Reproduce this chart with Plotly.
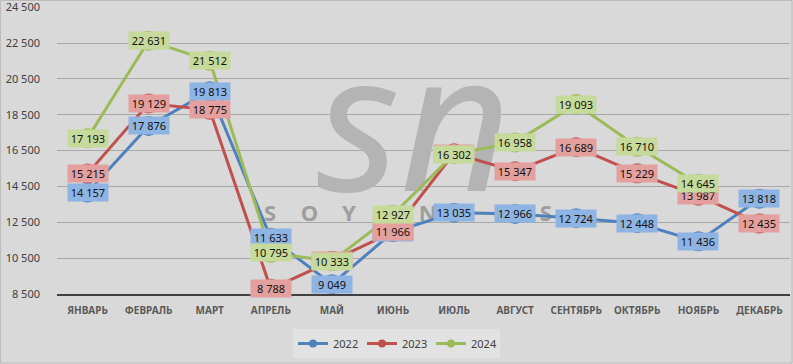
import plotly.graph_objects as go

months = ["ЯНВАРЬ", "ФЕВРАЛЬ", "МАРТ", "АПРЕЛЬ", "МАЙ", "ИЮНЬ", "ИЮЛЬ",
          "АВГУСТ", "СЕНТЯБРЬ", "ОКТЯБРЬ", "НОЯБРЬ", "ДЕКАБРЬ"]
series_names = ["2022", "2023", "2024"]
v2022 = [14157, 17876, 19813, 11633, 9049, 11950, 13035, 12966, 12724, 12448, 11436, 13818]
v2023 = [15215, 19129, 18775, 8788, 10350, 11966, 16350, 15347, 16689, 15229, 13987, 12435]
v2024 = [17193, 22631, 21512, 10795, 10333, 12927, 16302, 16958, 19093, 16710, 14645, None]
y_ticks = [8500, 10500, 12500, 14500, 16500, 18500, 20500, 22500, 24500]
watermark_big = "sn"
watermark_letters = ["S", "O", "Y", "A", "N", "E", "W", "S"]

W, H = 793, 364
L, R, T, B = 57, 3, 7, 70
PW, PH = W - L - R, H - T - B
YMIN, YMAX = 8500, 24510
XMIN, XMAX = -0.5, 11.5

def x_of(px):
    return XMIN + (px - L) / PW * (XMAX - XMIN)

def y_of(py):
    return YMIN + (T + PH - py) / PH * (YMAX - YMIN)

line_colors = ["#4f81bd", "#c0504d", "#9bbb59"]
box_colors = ["#8db4e2", "#e3a09e", "#c6da9c"]
all_vals = [v2022, v2023, v2024]
xs = list(range(len(months)))

fig = go.Figure()

# watermark (drawn first so lines are above it)
fig.add_trace(go.Scatter(
    x=[x_of(414)], y=[y_of(143)], mode="text", text=[watermark_big],
    textfont=dict(family="Noto Sans", size=192, color="#b4b4b4", style="italic"),
    showlegend=False, hoverinfo="skip", cliponaxis=False))
fig.add_trace(go.Scatter(
    x=[x_of(270 + i * 39.4) for i in range(len(watermark_letters))],
    y=[y_of(215)] * len(watermark_letters), mode="text", text=watermark_letters,
    textfont=dict(family="Noto Sans", size=22, color="#9e9e9e", weight="bold"),
    showlegend=False, hoverinfo="skip"))

for name, vals, lc in zip(series_names, all_vals, line_colors):
    fig.add_trace(go.Scatter(
        x=xs, y=vals, mode="lines+markers", name=name,
        line=dict(color=lc, width=3), marker=dict(color=lc, size=20),
        showlegend=False, connectgaps=False))

for name, lc in zip(series_names, line_colors):
    fig.add_trace(go.Scatter(
        x=[None], y=[None], mode="lines+markers", name=name,
        line=dict(color=lc, width=3), marker=dict(color=lc, size=8),
        showlegend=True))

annotations = []
for vals, bc in zip(all_vals, box_colors):
    for i, v in enumerate(vals):
        if v is None:
            continue
        annotations.append(dict(
            x=i, y=v, xref="x", yref="y", showarrow=False,
            text=f"{v:,}".replace(",", " "),
            font=dict(family="Noto Sans", size=11, color="#111111"),
            bgcolor=bc, width=40, height=17, xanchor="center", yanchor="middle",
            borderpad=0))

fig.update_layout(
    width=W, height=H,
    margin=dict(l=L, r=R, t=T, b=B, autoexpand=False),
    paper_bgcolor="#d9d9d9", plot_bgcolor="#d9d9d9",
    separators=", ",
    annotations=annotations,
    showlegend=True,
    legend=dict(orientation="h", x=(W / 2 - L) / PW, xanchor="center",
                y=(T + PH - 343.5) / PH, yanchor="middle",
                bgcolor="#e2e2e2", font=dict(family="Noto Sans", size=11, color="#404040"),
                itemwidth=30, traceorder="normal", entrywidth=24,
                entrywidthmode="pixels"),
    shapes=[dict(type="rect", xref="paper", yref="paper",
                 x0=(0.5 - L) / PW, x1=(W - 1 - L) / PW,
                 y0=(T + PH - (H - 1)) / PH, y1=(T + PH - 0.5) / PH,
                 line=dict(color="#bcbcbc", width=1), fillcolor="rgba(0,0,0,0)",
                 layer="below")],
)
fig.update_xaxes(range=[XMIN, XMAX], tickvals=xs, ticktext=months, automargin=False,
                 showgrid=False, zeroline=False, showline=True,
                 linecolor="#404040", linewidth=2, ticks="",
                 ticklabelstandoff=6,
                 tickfont=dict(family="Noto Sans", size=10, color="#595959", weight="bold"))
fig.update_yaxes(range=[YMIN, YMAX], tickvals=y_ticks, tickformat=",d", automargin=False,
                 showgrid=True, gridcolor="#a8a8a8", gridwidth=1, zeroline=False,
                 showline=False, ticks="", ticklabelstandoff=16,
                 ticklabeloverflow="allow",
                 tickfont=dict(family="Noto Sans", size=11, color="#404040"))

fig.write_html("out.html", config={"displayModeBar": False},
               post_script="document.body.style.margin='0';document.body.style.padding='0';")
